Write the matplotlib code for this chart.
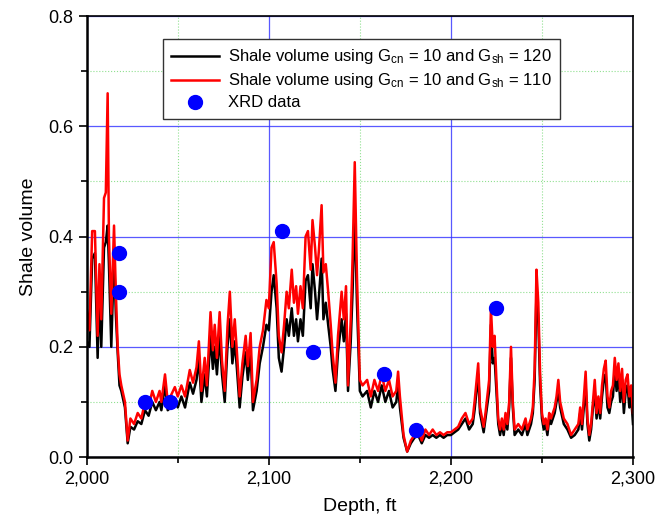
import matplotlib
matplotlib.use("Agg")
import matplotlib.pyplot as plt
from matplotlib.ticker import MultipleLocator, FuncFormatter

plt.rcParams['font.family'] = ['Liberation Sans', 'DejaVu Sans']
plt.rcParams['mathtext.default'] = 'regular'

# Depth samples (ft)
depth = [2000, 2001.5, 2003, 2004.5, 2006, 2007, 2008, 2009.5, 2010.5, 2011.5,
         2012.2, 2013.5, 2015, 2016, 2017, 2018, 2019, 2021, 2022.5, 2024,
         2026, 2028, 2030, 2032, 2034, 2036, 2038, 2040, 2041, 2043,
         2044.5, 2046, 2048.4, 2050, 2052, 2054, 2056.6, 2058.4, 2060.3, 2061.6,
         2063, 2064.8, 2066, 2068, 2069.3, 2070.3, 2071.5, 2073, 2074.3, 2075.8,
         2077.3, 2078.6, 2080, 2081.3, 2082.5, 2084, 2085.5, 2087.3, 2088.5, 2090,
         2091.3, 2093.3, 2095, 2096.8, 2098.7, 2100, 2101.5, 2102.7, 2104.3, 2105.5,
         2107, 2108.4, 2109.8, 2111, 2112.6, 2113.8, 2115, 2116, 2117.4, 2118.7,
         2120.2, 2121.5, 2123, 2124, 2125.4, 2126.5, 2127.5, 2129, 2130, 2131.3,
         2132.6, 2134, 2135, 2136.6, 2138, 2140, 2141.2, 2142.4, 2143.5, 2145,
         2146, 2147.2, 2148.4, 2150, 2151.5, 2154, 2156, 2158, 2160, 2162,
         2164, 2166, 2168, 2170, 2171, 2172, 2174, 2176, 2178, 2180,
         2182, 2184, 2186, 2188, 2190, 2192, 2194,
         2196, 2198, 2200, 2202, 2204, 2206, 2208, 2210, 2212, 2213,
         2215, 2216, 2218, 2219, 2221, 2222, 2223, 2224, 2225, 2226,
         2227, 2228, 2229, 2230, 2231, 2232, 2233, 2234, 2235, 2237,
         2239, 2241, 2242, 2244, 2245, 2246, 2247, 2248, 2249, 2250,
         2251, 2252, 2253, 2254, 2255, 2256, 2257, 2258, 2259, 2260,
         2262, 2264, 2266, 2268, 2270, 2271, 2272, 2274, 2275, 2276,
         2277, 2278, 2279, 2280, 2281, 2282, 2283, 2284, 2285, 2286,
         2287, 2288, 2289, 2290, 2291, 2292, 2293, 2294, 2295, 2296,
         2297, 2298, 2299, 2300]

# Shale volume, Gcn = 10, Gsh = 110 (red)
vsh_110 = [0.27, 0.23, 0.41, 0.41, 0.22, 0.35, 0.25, 0.47, 0.48, 0.66,
           0.40, 0.26, 0.42, 0.30, 0.20, 0.15, 0.13, 0.10, 0.03, 0.07,
           0.06, 0.08, 0.07, 0.10, 0.09, 0.12, 0.10, 0.12, 0.10, 0.15,
           0.10, 0.11, 0.127, 0.11, 0.13, 0.11, 0.158, 0.135, 0.163, 0.21,
           0.12, 0.18, 0.13, 0.263, 0.194, 0.24, 0.18, 0.263, 0.175, 0.12,
           0.236, 0.30, 0.20, 0.25, 0.19, 0.11, 0.17, 0.22, 0.165, 0.225,
           0.10, 0.14, 0.20, 0.23, 0.285, 0.27, 0.38, 0.39, 0.315, 0.22,
           0.19, 0.24, 0.30, 0.27, 0.34, 0.28, 0.31, 0.26, 0.31, 0.27,
           0.40, 0.41, 0.34, 0.43, 0.38, 0.33, 0.375, 0.457, 0.335, 0.35,
           0.30, 0.24, 0.19, 0.135, 0.22, 0.30, 0.25, 0.31, 0.13, 0.25,
           0.36, 0.535, 0.33, 0.14, 0.13, 0.14, 0.11, 0.14, 0.12, 0.15,
           0.12, 0.14, 0.11, 0.12, 0.155, 0.11, 0.04, 0.01, 0.03, 0.04,
           0.05, 0.03, 0.05, 0.04, 0.05, 0.04, 0.045,
           0.04, 0.045, 0.045, 0.05, 0.055, 0.07, 0.08, 0.06, 0.07, 0.10,
           0.17, 0.09, 0.055, 0.08, 0.14, 0.27, 0.20, 0.22, 0.14, 0.07,
           0.05, 0.07, 0.05, 0.08, 0.06, 0.10, 0.20, 0.10, 0.05, 0.06,
           0.05, 0.07, 0.05, 0.07, 0.09, 0.16, 0.34, 0.28, 0.15, 0.08,
           0.06, 0.07, 0.05, 0.08, 0.07, 0.08, 0.09, 0.11, 0.14, 0.10,
           0.07, 0.06, 0.04, 0.05, 0.06, 0.09, 0.06, 0.155, 0.07, 0.04,
           0.06, 0.10, 0.14, 0.08, 0.11, 0.08, 0.13, 0.16, 0.175, 0.11,
           0.09, 0.12, 0.13, 0.18, 0.14, 0.17, 0.12, 0.16, 0.10, 0.14,
           0.15, 0.11, 0.13, 0.08]

# Shale volume, Gcn = 10, Gsh = 120 (black)
vsh_120 = [0.21, 0.20, 0.36, 0.37, 0.18, 0.31, 0.20, 0.38, 0.39, 0.42,
           0.35, 0.20, 0.37, 0.26, 0.19, 0.13, 0.12, 0.09, 0.025, 0.055,
           0.05, 0.065, 0.06, 0.085, 0.075, 0.10, 0.085, 0.10, 0.085, 0.13,
           0.085, 0.09, 0.105, 0.09, 0.11, 0.09, 0.135, 0.115, 0.14, 0.18,
           0.10, 0.15, 0.11, 0.22, 0.16, 0.20, 0.15, 0.22, 0.15, 0.10,
           0.20, 0.25, 0.17, 0.21, 0.16, 0.09, 0.145, 0.19, 0.14, 0.19,
           0.085, 0.12, 0.17, 0.20, 0.24, 0.23, 0.30, 0.33, 0.27, 0.18,
           0.155, 0.20, 0.25, 0.22, 0.27, 0.22, 0.25, 0.21, 0.25, 0.22,
           0.32, 0.33, 0.27, 0.35, 0.30, 0.25, 0.29, 0.36, 0.25, 0.28,
           0.24, 0.20, 0.16, 0.12, 0.19, 0.25, 0.21, 0.26, 0.12, 0.21,
           0.30, 0.45, 0.28, 0.12, 0.11, 0.12, 0.09, 0.12, 0.10, 0.13,
           0.10, 0.12, 0.09, 0.10, 0.13, 0.09, 0.035, 0.01, 0.025, 0.035,
           0.04, 0.025, 0.04, 0.035, 0.04, 0.035, 0.04,
           0.035, 0.04, 0.04, 0.045, 0.05, 0.06, 0.07, 0.05, 0.06, 0.085,
           0.15, 0.08, 0.045, 0.07, 0.12, 0.24, 0.17, 0.18, 0.12, 0.06,
           0.04, 0.06, 0.04, 0.07, 0.05, 0.09, 0.18, 0.09, 0.04, 0.05,
           0.04, 0.06, 0.04, 0.06, 0.08, 0.14, 0.30, 0.25, 0.13, 0.07,
           0.05, 0.06, 0.04, 0.07, 0.06, 0.07, 0.08, 0.10, 0.12, 0.09,
           0.06, 0.05, 0.035, 0.04, 0.05, 0.08, 0.05, 0.13, 0.06, 0.03,
           0.05, 0.09, 0.12, 0.07, 0.10, 0.07, 0.11, 0.14, 0.15, 0.09,
           0.08, 0.10, 0.11, 0.16, 0.12, 0.15, 0.10, 0.14, 0.08, 0.12,
           0.13, 0.09, 0.11, 0.06]

# XRD core measurements
xrd_depth = [2018, 2018, 2032, 2046, 2107, 2124, 2163, 2181, 2225]
xrd_vsh = [0.37, 0.30, 0.10, 0.10, 0.41, 0.19, 0.15, 0.05, 0.27]

assert len(depth) == len(vsh_110) == len(vsh_120)

fig = plt.figure(figsize=(6.67, 5.2), dpi=100)
ax = fig.add_axes([0.130, 0.121, 0.819, 0.848])

ax.plot(depth, vsh_120, color='black', lw=1.8,
        label='Shale volume using G$_{cn}$ = 10 and G$_{sh}$ = 120')
ax.plot(depth, vsh_110, color='#ff0000', lw=1.8,
        label='Shale volume using G$_{cn}$ = 10 and G$_{sh}$ = 110')
ax.plot(xrd_depth, xrd_vsh, 'o', color='#0000ff', ms=10, label='XRD data')

ax.set_xlim(2000, 2300)
ax.set_ylim(0, 0.8)
ax.xaxis.set_major_locator(MultipleLocator(100))
ax.xaxis.set_minor_locator(MultipleLocator(50))
ax.yaxis.set_major_locator(MultipleLocator(0.2))
ax.yaxis.set_minor_locator(MultipleLocator(0.1))
ax.xaxis.set_major_formatter(FuncFormatter(lambda v, p: f"{int(v):,}"))
ax.yaxis.set_major_formatter(FuncFormatter(lambda v, p: f"{v:.1f}"))

ax.grid(which='major', color='#3030ff', lw=0.9, alpha=0.8)
ax.grid(which='minor', color='#90e090', lw=0.8, ls=':')
ax.set_axisbelow(True)

ax.tick_params(which='both', direction='out', top=False, right=False,
               labelsize=13, width=1.2)
ax.tick_params(which='major', length=6)
ax.tick_params(which='minor', length=4)
for s in ['left', 'bottom']:
    ax.spines[s].set_linewidth(1.8)
for s in ['top', 'right']:
    ax.spines[s].set_linewidth(1.2)

ax.set_xlabel('Depth, ft', fontsize=14, labelpad=8)
ax.set_ylabel('Shale volume', fontsize=14, labelpad=8)

leg = ax.legend(loc='upper left', bbox_to_anchor=(0.139, 0.948), borderaxespad=0,
                fontsize=12, fancybox=False, edgecolor='#333333', framealpha=1,
                handlelength=2.9, labelspacing=0.3, borderpad=0.5, handletextpad=0.5)
leg.get_frame().set_linewidth(1.0)

fig.savefig('out.png', dpi=100)
